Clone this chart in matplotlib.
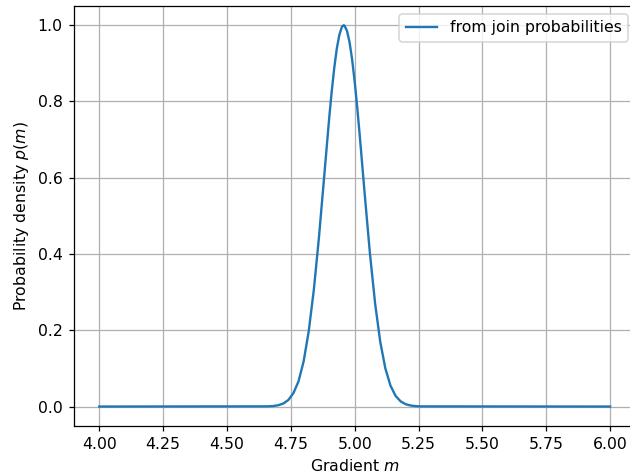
import matplotlib

matplotlib.use("Agg")
import matplotlib.pyplot as plt

# gradient values and the posterior density
m_vals = [4.00, 4.66, 4.68, 4.70, 4.72, 4.74, 4.76, 4.78, 4.80, 4.82, 4.84,
          4.86, 4.88, 4.90, 4.91, 4.92, 4.93, 4.94, 4.95, 4.957, 4.96, 4.97,
          4.98, 4.99, 5.00, 5.01, 5.02, 5.04, 5.06, 5.08, 5.10, 5.12, 5.14,
          5.16, 5.18, 5.20, 5.22, 5.24, 5.26, 6.00]
p_vals = [0.0, 0.0005, 0.0013, 0.0033, 0.0077, 0.017, 0.035, 0.066, 0.118,
          0.197, 0.306, 0.443, 0.599, 0.755, 0.826, 0.888, 0.939, 0.975,
          0.996, 1.0, 0.999, 0.985, 0.955, 0.910, 0.852, 0.784, 0.709, 0.551,
          0.399, 0.270, 0.170, 0.100, 0.055, 0.028, 0.0135, 0.006, 0.0025,
          0.001, 0.0004, 0.0]

DPI = 113  # original looks rendered at a slightly higher dpi
fig, ax = plt.subplots(figsize=(630 / DPI, 475 / DPI), dpi=DPI)
ax.plot(m_vals, p_vals, label="from join probabilities")
ax.set_xlabel("Gradient $m$")
ax.set_ylabel("Probability density $p(m)$")
ax.set_xticks([4.0, 4.25, 4.5, 4.75, 5.0, 5.25, 5.5, 5.75, 6.0])
ax.grid(True)
ax.legend(loc="upper right")
# the original was cropped slightly on the right
fig.subplots_adjust(left=0.117, right=1.009, top=0.987, bottom=0.104)
fig.savefig("out.png", dpi=DPI)
